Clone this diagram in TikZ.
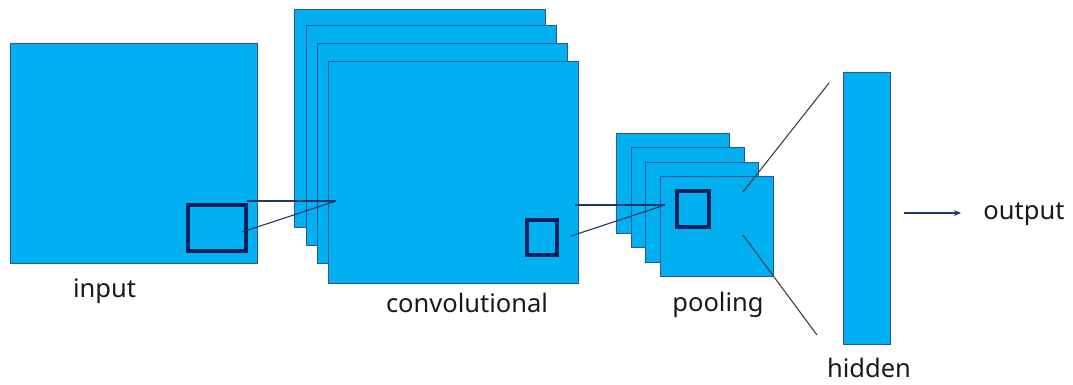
\documentclass[tikz,border=0pt]{standalone}
\usepackage{fontspec}
\setmainfont{Noto Sans}
\usetikzlibrary{arrows.meta}
\definecolor{fillblue}{RGB}{0,176,240}
\definecolor{edgeblue}{RGB}{47,85,151}
\definecolor{navy}{RGB}{0,32,96}
\definecolor{linknavy}{RGB}{31,56,100}
\definecolor{darkgray}{RGB}{64,64,64}
\tikzset{
  layer/.style={draw=edgeblue, line width=0.9pt, fill=fillblue, anchor=north west, inner sep=0pt},
  window/.style={draw=navy, line width=4pt, anchor=north west, inner sep=0pt},
  link/.style={draw=linknavy, line width=1.1pt},
  hlink/.style={draw=darkgray, line width=1.1pt},
  lbl/.style={anchor=base, inner sep=0pt, text=black!90, font=\fontsize{25.5}{30}\selectfont}
}
\begin{document}
\begin{tikzpicture}[x=1pt,y=-1pt]
\useasboundingbox (0,0) rectangle (1073,385);
% input
\node[layer, minimum width=247pt, minimum height=220pt] (inp) at (10,43) {};
\node[window, minimum width=58pt, minimum height=46pt] (iw) at (186,203) {};
% convolutional
\node[layer, minimum width=251pt, minimum height=218pt] (c1) at (294,9) {};
\node[layer, minimum width=250pt, minimum height=220pt] (c2) at (306,25) {};
\node[layer, minimum width=250pt, minimum height=220pt] (c3) at (317,43) {};
\node[layer, minimum width=250pt, minimum height=222pt] (c4) at (328,61) {};
\node[window, minimum width=30pt, minimum height=35pt] (cw) at (525,218) {};
% pooling
\node[layer, minimum width=113pt, minimum height=100pt] (p1) at (616,133) {};
\node[layer, minimum width=113pt, minimum height=100pt] (p2) at (631,147) {};
\node[layer, minimum width=113pt, minimum height=100pt] (p3) at (645,162) {};
\node[layer, minimum width=113pt, minimum height=100pt] (p4) at (660,176) {};
\node[window, minimum width=32pt, minimum height=36pt] (pw) at (675,189) {};
% hidden
\node[layer, minimum width=47pt, minimum height=272pt] (hid) at (843,72) {};
% connector points
\coordinate (cfocus) at (336,201);
\coordinate (iwa) at (247,201);
\coordinate (iwb) at (242,232);
\coordinate (pfocus) at (665,205);
\coordinate (cwa) at (575,205);
\coordinate (cwb) at (571,236);
\coordinate (hA) at (743,192);
\coordinate (hB) at (829,83);
\coordinate (hC) at (743,235);
\coordinate (hD) at (817,335);
\coordinate (oa) at (904,213);
\coordinate (ob) at (961,213);
% connectors
\draw[link] (iwa) -- (cfocus);
\draw[link] (iwb) -- (cfocus);
\draw[link] (cwa) -- (pfocus);
\draw[link] (cwb) -- (pfocus);
\draw[hlink] (hA) -- (hB);
\draw[hlink] (hC) -- (hD);
\draw[draw=linknavy, line width=1.1pt, -{Stealth[length=7pt,width=6pt]}] (oa) -- (ob);
% labels
\node[lbl] (tin) at (104.5,297) {input};
\node[lbl] (tconv) at (467,312) {convolutional};
\node[lbl] (tpool) at (718,311) {pooling};
\node[lbl] (thid) at (869,377) {hidden};
\node[lbl] (tout) at (1024,219) {output};
\end{tikzpicture}
\end{document}
